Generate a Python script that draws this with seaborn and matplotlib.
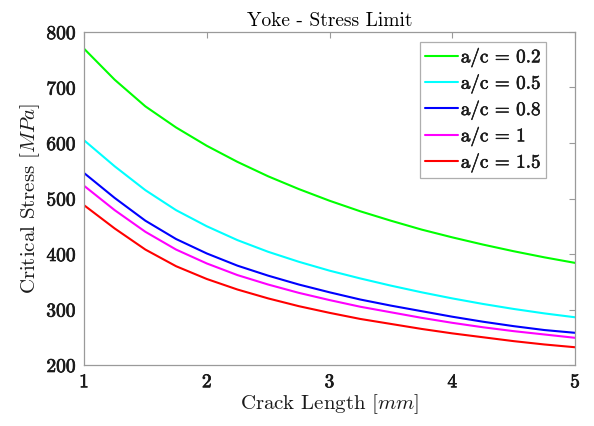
import matplotlib
matplotlib.use("Agg")
import matplotlib.pyplot as plt
import matplotlib.patheffects as pe
import seaborn as sns
import pandas as pd

crack_length = [1.0, 1.25, 1.5, 1.75, 2.0, 2.25, 2.5, 2.75, 3.0, 3.25, 3.5, 3.75, 4.0, 4.25, 4.5, 4.75, 5.0]
stress_ac_02 = [770, 714, 666, 628, 595, 566, 540, 517, 496, 477, 460, 444, 430, 417, 405, 394, 384]
stress_ac_05 = [605, 558, 515, 479, 450, 425, 404, 386, 370, 356, 343, 331, 320, 310, 301, 293, 286]
stress_ac_08 = [546, 501, 460, 427, 401, 379, 361, 345, 331, 318, 307, 297, 287, 278, 270, 263, 258]
stress_ac_10 = [523, 479, 440, 408, 383, 362, 345, 330, 317, 305, 295, 285, 276, 268, 261, 255, 249]
stress_ac_15 = [488, 446, 408, 378, 355, 336, 320, 306, 294, 283, 274, 265, 257, 250, 243, 237, 232]

labels = ["a/c = 0.2", "a/c = 0.5", "a/c = 0.8", "a/c = 1", "a/c = 1.5"]
series = [stress_ac_02, stress_ac_05, stress_ac_08, stress_ac_10, stress_ac_15]
colors = ["#00ff00", "#00ffff", "#0000ff", "#ff00ff", "#ff0000"]
x_ticks = [1, 2, 3, 4, 5]
y_ticks = [200, 300, 400, 500, 600, 700, 800]

rows = []
for lab, vals in zip(labels, series):
    for x, v in zip(crack_length, vals):
        rows.append({"Crack Length": x, "Stress": v, "Series": lab})
df = pd.DataFrame(rows)

sns.set_style("white")
plt.rcParams["font.family"] = ["cmr10", "DejaVu Serif"]
plt.rcParams["mathtext.fontset"] = "cm"
plt.rcParams["axes.formatter.use_mathtext"] = True
plt.rcParams["axes.unicode_minus"] = False

fig = plt.figure(figsize=(5.94, 4.26), dpi=100)
ax = fig.add_axes([84 / 594, 61 / 426, (575 - 84) / 594, (365 - 32) / 426])

sns.lineplot(data=df, x="Crack Length", y="Stress", hue="Series",
             palette=dict(zip(labels, colors)), hue_order=labels,
             linewidth=1.5, ax=ax)

ax.set_xlim(1, 5)
ax.set_ylim(200, 800)
ax.set_xticks(x_ticks)
ax.set_yticks(y_ticks)
ax.set_xticklabels([str(t) for t in x_ticks])
ax.set_yticklabels([str(t) for t in y_ticks])

axis_gray = "#9a9a9a"
for sp in ax.spines.values():
    sp.set_color(axis_gray)
    sp.set_linewidth(0.9)
ax.tick_params(direction="in", length=4, width=0.8, color=axis_gray,
               top=True, right=True, labelsize=14, labelcolor="#1a1a1a", pad=6)

bold = [pe.withStroke(linewidth=0.5, foreground="#1a1a1a")]
for t in ax.get_xticklabels() + ax.get_yticklabels():
    t.set_path_effects(bold)

ax.set_xlabel(r"Crack Length $[mm]$", fontsize=15, color="#1a1a1a", labelpad=1)
ax.set_ylabel(r"Critical Stress $[MPa]$", fontsize=15, color="#1a1a1a", labelpad=3)
ax.set_title("Yoke - Stress Limit", fontsize=14, color="#000000", pad=4)

leg = ax.legend(loc="upper right", bbox_to_anchor=((546 - 84) / 491, (365 - 42) / 333),
                borderaxespad=0, fontsize=13.8, frameon=True, fancybox=False,
                handlelength=1.7, handletextpad=0.15, borderpad=0.28,
                labelspacing=0.33)
leg.get_frame().set_edgecolor(axis_gray)
leg.get_frame().set_linewidth(0.9)
for line in leg.get_lines():
    line.set_linewidth(1.5)
for t in leg.get_texts():
    t.set_color("#1a1a1a")
    t.set_path_effects([pe.withStroke(linewidth=0.4, foreground="#1a1a1a")])

fig.savefig("out.png", dpi=100)
